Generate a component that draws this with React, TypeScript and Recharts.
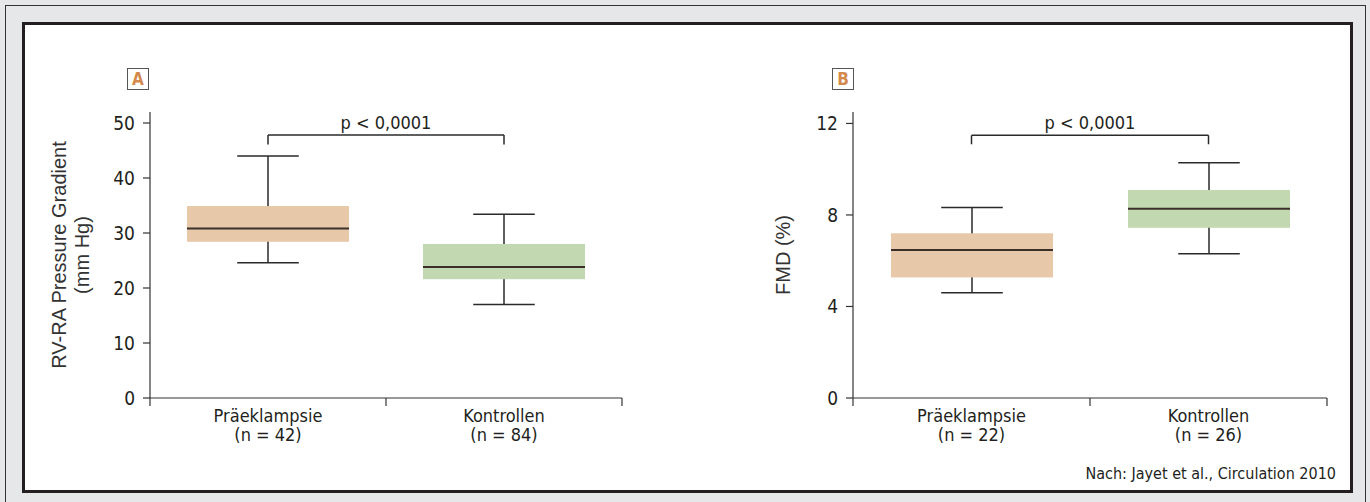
import React from "react"
import { ComposedChart, Bar, XAxis, YAxis, ReferenceLine } from "recharts"

const categories = ["Präeklampsie", "Kontrollen"]
const boxColors = ["#e7c8a9", "#c1d8b0"]

// Panel A: RV-RA pressure gradient (mm Hg)
const nA = [42, 84]
const rvMin = [24.6, 17.0]
const rvQ1 = [28.4, 21.6]
const rvMedian = [30.8, 23.8]
const rvQ3 = [34.9, 28.0]
const rvMax = [44.0, 33.4]
const rvTicks = [0, 10, 20, 30, 40, 50]

// Panel B: FMD (%)
const nB = [22, 26]
const fmdMin = [4.6, 6.3]
const fmdQ1 = [5.27, 7.44]
const fmdMedian = [6.47, 8.27]
const fmdQ3 = [7.2, 9.09]
const fmdMax = [8.33, 10.28]
const fmdTicks = [0, 4, 8, 12]

const pText = "p < 0,0001"
const source = "Nach: Jayet et al., Circulation 2010"

const condensed = "'Liberation Sans Narrow', 'DejaVu Sans Condensed', sans-serif"
const plain = "'Liberation Sans', Arial, sans-serif"
const ink = "#231f20"

function buildRows(n: number[], min: number[], q1: number[], med: number[], q3: number[], max: number[]) {
  return categories.map((name, i) => ({
    name,
    pos: i + 0.5,
    n: n[i],
    min: min[i],
    q1: q1[i],
    median: med[i],
    q3: q3[i],
    max: max[i],
    color: boxColors[i],
  }))
}

const rowsA = buildRows(nA, rvMin, rvQ1, rvMedian, rvQ3, rvMax)
const rowsB = buildRows(nB, fmdMin, fmdQ1, fmdMedian, fmdQ3, fmdMax)

const BoxShape = (props: any) => {
  const { x, y, width, height, payload } = props
  const top = Math.min(y, y + height)
  const h = Math.abs(height)
  const { min, q1, median, q3, max, color } = payload
  const py = (v: number) => top + (h * (max - v)) / (max - min)
  const cx = x + width / 2
  const cap = width * 0.19
  return (
    <g>
      <line x1={cx} x2={cx} y1={py(max)} y2={py(min)} stroke="#2a2a2a" strokeWidth={1.5} />
      <line x1={cx - cap} x2={cx + cap} y1={py(max)} y2={py(max)} stroke="#2a2a2a" strokeWidth={1.5} />
      <line x1={cx - cap} x2={cx + cap} y1={py(min)} y2={py(min)} stroke="#2a2a2a" strokeWidth={1.5} />
      <rect x={x} y={py(q3)} width={width} height={py(q1) - py(q3)} fill={color} />
      <line x1={x} x2={x + width} y1={py(median)} y2={py(median)} stroke="#3b2f2a" strokeWidth={2} />
    </g>
  )
}

const makeFrameTick = (rows: any[]) => (props: any) => {
  const { x, y, payload } = props
  const v = payload.value
  if (Number.isInteger(v)) {
    return <line x1={x} x2={x} y1={y} y2={y + 8} stroke="#333" strokeWidth={1.2} />
  }
  const row = rows[Math.floor(v)]
  return (
    <text x={x} textAnchor="middle" fontFamily={condensed} fontSize={18} fill={ink}>
      <tspan x={x} y={y + 24}>{row.name}</tspan>
      <tspan x={x} y={y + 43}>{`(n = ${row.n})`}</tspan>
    </text>
  )
}

const makeYLabel = (lines: string[], dx: number) => (props: any) => {
  const { viewBox } = props
  const cy = viewBox.y + viewBox.height / 2
  return (
    <g>
      {lines.map((t, i) => {
        const cx = viewBox.x + dx + (i - (lines.length - 1) / 2) * 23
        return (
          <text
            key={t}
            x={cx}
            y={cy}
            transform={`rotate(-90, ${cx}, ${cy})`}
            textAnchor="middle"
            dominantBaseline="central"
            fontFamily={plain}
            fontSize={20}
            fill="#333"
          >
            {t}
          </text>
        )
      })}
    </g>
  )
}

interface PanelProps {
  rows: any[]
  ticks: number[]
  domainMax: number
  bracketTop: number
  bracketBottom: number
  yLabel: string[]
  labelDx: number
  left: number
  width: number
  marginLeft: number
  marginRight: number
}

function BoxPanel(p: PanelProps) {
  return (
    <div style={{ position: "absolute", left: p.left, top: 0 }}>
      <ComposedChart
        width={p.width}
        height={502}
        data={p.rows}
        margin={{ top: 112, right: p.marginRight, bottom: 54, left: p.marginLeft }}
      >
        <XAxis xAxisId="cat" dataKey="name" type="category" hide height={0} />
        <XAxis
          xAxisId="frame"
          dataKey="pos"
          type="number"
          domain={[0, 2]}
          ticks={[0, 0.5, 1, 1.5, 2]}
          tickLine={false}
          tickSize={0}
          tickMargin={0}
          height={50}
          axisLine={{ stroke: "#333", strokeWidth: 1.2 }}
          tick={makeFrameTick(p.rows)}
          interval={0}
        />
        <YAxis
          type="number"
          domain={[0, p.domainMax]}
          ticks={p.ticks}
          width={60}
          tickSize={7}
          tickMargin={8}
          axisLine={{ stroke: "#333", strokeWidth: 1.2 }}
          tickLine={{ stroke: "#333", strokeWidth: 1.2 }}
          tick={{ fontFamily: condensed, fontSize: 19, fill: ink }}
          interval={0}
          label={{ content: makeYLabel(p.yLabel, p.labelDx) }}
        />
        <Bar
          xAxisId="cat"
          dataKey={(d: any) => [d.min, d.max]}
          barSize={162}
          shape={BoxShape}
          isAnimationActive={false}
        />
        <ReferenceLine
          xAxisId="cat"
          segment={[
            { x: categories[0], y: p.bracketTop },
            { x: categories[1], y: p.bracketTop },
          ]}
          stroke="#2a2a2a"
          strokeWidth={1.5}
          ifOverflow="visible"
          label={{ value: pText, position: "top", offset: 6, fontFamily: condensed, fontSize: 18, fill: ink }}
        />
        {categories.map((c) => (
          <ReferenceLine
            key={c}
            xAxisId="cat"
            segment={[
              { x: c, y: p.bracketTop },
              { x: c, y: p.bracketBottom },
            ]}
            stroke="#2a2a2a"
            strokeWidth={1.5}
            ifOverflow="visible"
          />
        ))}
      </ComposedChart>
    </div>
  )
}

const tagStyle = (left: number): React.CSSProperties => ({
  position: "absolute",
  left,
  top: 68,
  width: 20,
  height: 20,
  border: "1px solid #555",
  background: "#fff",
  color: "#d48a4c",
  fontFamily: condensed,
  fontWeight: "bold",
  fontSize: 17,
  lineHeight: "20px",
  textAlign: "center",
})

export default function App() {
  return (
    <div
      style={{
        position: "absolute",
        left: 0,
        top: 0,
        width: 1370,
        height: 502,
        background: "#e6e7e8",
        overflow: "hidden",
      }}
    >
      <div
        style={{
          position: "absolute",
          left: 5,
          top: 5,
          width: 1359,
          height: 510,
          border: "1px solid #333",
        }}
      />
      <div
        style={{
          position: "absolute",
          left: 22,
          top: 22,
          width: 1325,
          height: 465,
          border: "3px solid #231f20",
          background: "#fff",
        }}
      />
      <div style={tagStyle(127)}>A</div>
      <div style={tagStyle(832)}>B</div>
      <BoxPanel
        rows={rowsA}
        ticks={rvTicks}
        domainMax={52}
        bracketTop={47.8}
        bracketBottom={46.1}
        yLabel={["RV-RA Pressure Gradient", "(mm Hg)"]}
        labelDx={-19.5}
        left={0}
        width={700}
        marginLeft={90}
        marginRight={78}
      />
      <BoxPanel
        rows={rowsB}
        ticks={fmdTicks}
        domainMax={12.5}
        bracketTop={11.48}
        bracketBottom={11.09}
        yLabel={["FMD (%)"]}
        labelDx={-10}
        left={690}
        width={680}
        marginLeft={103}
        marginRight={43}
      />
      <div
        style={{
          position: "absolute",
          right: 34,
          top: 464,
          fontFamily: condensed,
          fontSize: 16,
          lineHeight: "20px",
          color: ink,
          whiteSpace: "nowrap",
        }}
      >
        {source}
      </div>
    </div>
  )
}
